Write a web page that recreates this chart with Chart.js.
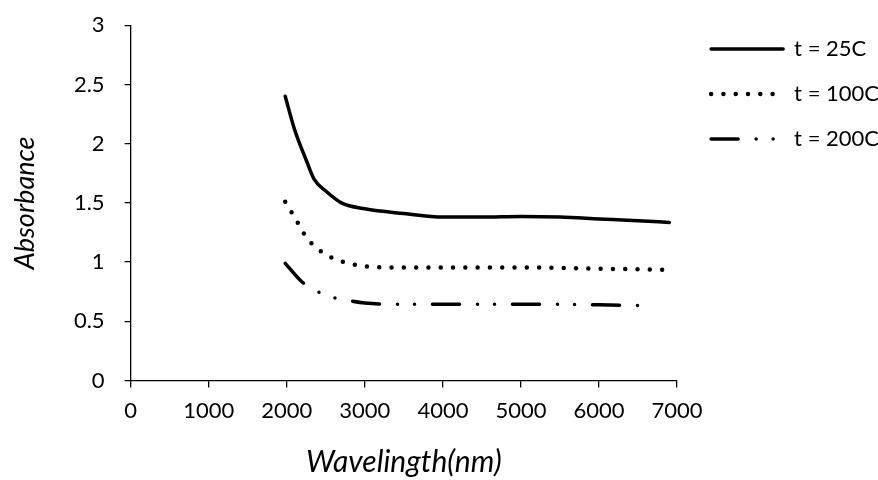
<!DOCTYPE html>
<html>
<head>
<meta charset="utf-8">
<script src="https://cdn.jsdelivr.net/npm/chart.js@4"></script>
<style>
  body { margin: 0; background: #fff; }
  #wrap { width: 878px; height: 480px; }
</style>
</head>
<body>
<div id="wrap"><canvas id="absorbance-chart"></canvas></div>
<script>
// Wavelength (nm) and absorbance readings for each temperature
let wave25 = [1980, 2100, 2250, 2350, 2500, 2700, 3000, 3500, 4000, 4500, 5000, 5500, 6000, 6500, 6900];
let abs25 = [2.40, 2.12, 1.86, 1.70, 1.60, 1.50, 1.45, 1.41, 1.38, 1.38, 1.385, 1.38, 1.365, 1.35, 1.335];

let wave100 = [1980, 2100, 2250, 2400, 2600, 2800, 3000, 3500, 4000, 5000, 6000, 6900];
let abs100 = [1.51, 1.38, 1.21, 1.11, 1.03, 0.99, 0.965, 0.955, 0.955, 0.955, 0.945, 0.935];

let wave200 = [1980, 2200, 2400, 2600, 2800, 3000, 3500, 4000, 5000, 6000, 6700];
let abs200 = [0.99, 0.83, 0.75, 0.70, 0.675, 0.655, 0.645, 0.645, 0.645, 0.64, 0.63];

let seriesNames = ['t = 25C', 't = 100C', 't = 200C'];

// Axis ranges
let xMin = 0, xMax = 7000, xStep = 1000;
let yMin = 0, yMax = 3, yStep = 0.5;

// pair up x and y arrays into points
function toPoints(xs, ys) {
  return xs.map((x, i) => ({ x: x, y: ys[i] }));
}

const fontName = 'Lato, "Open Sans", sans-serif';

// nudge the legend away from the plot without touching row spacing
const legendGap = {
  id: 'legendGap',
  afterLayout(chart) {
    chart.legend.left += 11;
    chart.legend.right += 11;
    chart.legend.top += 11;
    chart.legend.bottom += 11;
  }
};

let absorbanceChart = new Chart('absorbance-chart', {
  type: 'line',
  plugins: [legendGap],
  data: {
    datasets: [
      {
        label: seriesNames[0],
        data: toPoints(wave25, abs25),
        borderColor: '#000',
        backgroundColor: '#000',
        borderWidth: 3.5,
        borderCapStyle: 'round',
        pointRadius: 0,
        cubicInterpolationMode: 'monotone',
        fill: false
      },
      {
        label: seriesNames[1],
        data: toPoints(wave100, abs100),
        borderColor: '#000',
        backgroundColor: '#000',
        borderWidth: 4.5,
        borderCapStyle: 'round',
        borderDash: [0, 12.3],
        pointRadius: 0,
        cubicInterpolationMode: 'monotone',
        fill: false
      },
      {
        label: seriesNames[2],
        data: toPoints(wave200, abs200),
        borderColor: '#000',
        backgroundColor: '#000',
        borderWidth: 3.5,
        borderCapStyle: 'round',
        borderDash: [27, 18, 0, 17, 0, 18],
        pointRadius: 0,
        cubicInterpolationMode: 'monotone',
        fill: false
      }
    ]
  },
  options: {
    responsive: true,
    maintainAspectRatio: false,
    animation: false,
    layout: {
      padding: { top: 4, right: 0, left: 0, bottom: 0 }
    },
    plugins: {
      tooltip: { enabled: false },
      legend: {
        position: 'right',
        align: 'start',
        labels: {
          usePointStyle: true,
          pointStyle: 'line',
          pointStyleWidth: 72,
          color: '#000',
          padding: 23,
          font: { family: fontName, size: 22 },
          // line samples should carry each dataset's dash pattern
          generateLabels(chart) {
            let items = Chart.defaults.plugins.legend.labels.generateLabels(chart);
            items.forEach(item => {
              let ds = chart.data.datasets[item.datasetIndex];
              item.lineDash = ds.borderDash || [];
              item.lineCap = 'round';
              item.lineWidth = ds.borderWidth;
              item.strokeStyle = ds.borderColor;
            });
            return items;
          }
        }
      }
    },
    scales: {
      x: {
        type: 'linear',
        min: xMin,
        max: xMax,
        border: { color: '#000', width: 1.3 },
        grid: { drawOnChartArea: false, color: '#000', lineWidth: 1.3, tickLength: 7 },
        ticks: {
          stepSize: xStep,
          color: '#000',
          padding: 10,
          maxRotation: 0,
          font: { family: fontName, size: 22 },
          callback: value => String(value)
        },
        title: {
          display: true,
          text: 'Wavelingth(nm)',
          color: '#000',
          padding: { top: 10, bottom: 0 },
          font: { family: fontName, size: 30, style: 'italic' }
        }
      },
      y: {
        min: yMin,
        max: yMax,
        border: { color: '#000', width: 1.3 },
        // long tick slot for label spacing, only the 6px next to the axis is inked
        grid: {
          drawOnChartArea: false,
          color: '#000',
          lineWidth: 1.3,
          tickLength: 14,
          tickBorderDash: [0, 8, 6, 100]
        },
        ticks: {
          stepSize: yStep,
          color: '#000',
          padding: 12,
          font: { family: fontName, size: 22 },
          callback: value => String(value)
        },
        title: {
          display: true,
          text: 'Absorbance',
          color: '#000',
          padding: { top: 9, bottom: 20.5 },
          font: { family: fontName, size: 27, style: 'italic' }
        }
      }
    }
  }
});
</script>
</body>
</html>
